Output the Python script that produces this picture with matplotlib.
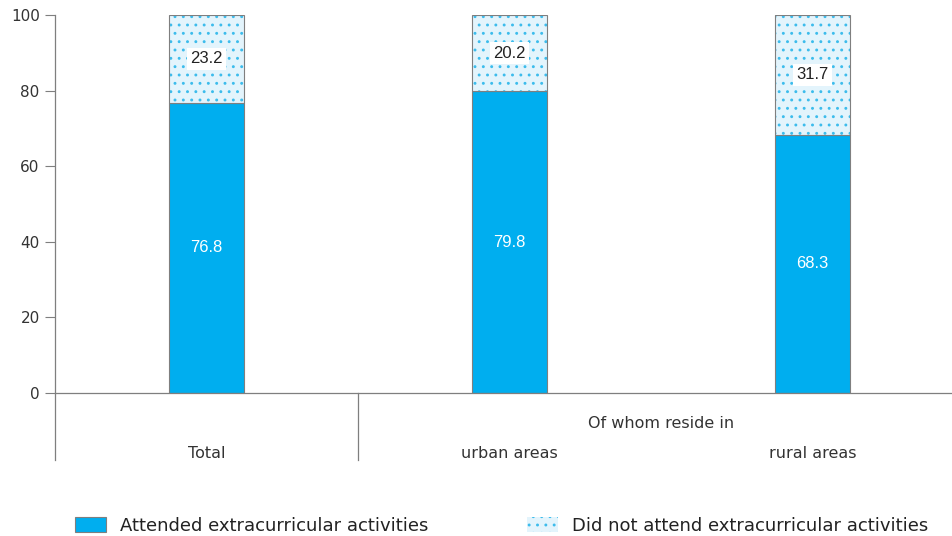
import matplotlib.pyplot as plt
from matplotlib.patches import Patch

plt.rcParams['font.family'] = ['DejaVu Sans']
plt.rcParams['hatch.linewidth'] = 0.9

# Share of children attending extracurricular activities (%)
categories = ['Total', 'urban areas', 'rural areas']
attended = [76.8, 79.8, 68.3]
not_attended = [23.2, 20.2, 31.7]
group_label = 'Of whom reside in'
legend_labels = ['Attended extracurricular activities',
                 'Did not attend extracurricular activities']

blue = '#00aeef'
light = '#e3f4fc'
dots = '#3cbcec'
grey = '#7f7f7f'
num_font = ['Liberation Sans Narrow', 'Liberation Sans', 'DejaVu Sans']

fig = plt.figure(figsize=(9.52, 5.36), dpi=100)
ax = fig.add_axes([55 / 952, 143 / 536, 909 / 952, 378 / 536])

x = range(len(categories))
ax.bar(x, attended, width=0.25, color=blue, edgecolor=grey, linewidth=0.8)
ax.bar(x, not_attended, bottom=attended, width=0.25, color=light,
       edgecolor=dots, linewidth=0, hatch='..')
# outline of the upper segments in grey
ax.bar(x, not_attended, bottom=attended, width=0.25, fill=False,
       edgecolor=grey, linewidth=0.8)

for i, (a, n) in enumerate(zip(attended, not_attended)):
    ax.text(i, a / 2, f'{a:.1f}', ha='center', va='center', color='white',
            fontsize=12, family=num_font)
    ax.text(i, a + n / 2, f'{n:.1f}', ha='center', va='center',
            color='#222222', fontsize=12, family=num_font,
            bbox=dict(facecolor='white', edgecolor='none', pad=2.5))

ax.set_xlim(-0.5, 2.5)
ax.set_ylim(0, 100)
ax.set_yticks(range(0, 101, 20))
ax.set_xticks([])
ax.tick_params(axis='y', direction='out', length=7, color=grey, labelsize=11,
               labelcolor='#333333', pad=4)
for s in ['top', 'right']:
    ax.spines[s].set_visible(False)
for s in ['left', 'bottom']:
    ax.spines[s].set_color(grey)
    ax.spines[s].set_linewidth(0.9)

# category axis below the plot
for xv in [-0.5, 0.5]:
    ax.plot([xv, xv], [0, -17.7], color=grey, lw=0.9, clip_on=False)
ax.text(1.5, -8.2, group_label, ha='center', va='center', fontsize=11.5,
        color='#333333')
for i, c in enumerate(categories):
    ax.text(i, -16.1, c, ha='center', va='center', fontsize=11.5, color='#333333')

handles = [Patch(facecolor=blue, edgecolor=grey, linewidth=0.8),
           Patch(facecolor=light, edgecolor=dots, hatch='..', linewidth=0)]
anchors = [(75 / 952, 1 / 536), (527 / 952, 1 / 536)]
for h, lab, anc in zip(handles, legend_labels, anchors):
    fig.legend([h], [lab], loc='lower left', bbox_to_anchor=anc,
               frameon=False, fontsize=13, handlelength=1.7, handleheight=0.9,
               handletextpad=0.8, borderpad=0, borderaxespad=0,
               labelcolor='#222222')

fig.savefig('out.png', dpi=100)
